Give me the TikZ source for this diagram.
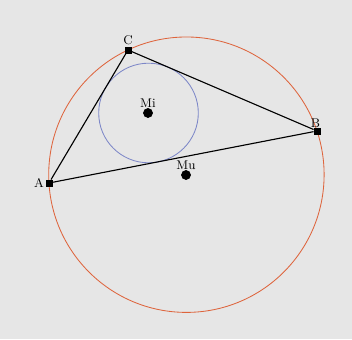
\documentclass[tikz,border=0pt]{standalone}
\usepackage{tikz}
\usetikzlibrary{positioning}

\definecolor{bggray}{RGB}{230,230,230}
\definecolor{umkreis}{RGB}{222,100,60}
\definecolor{inkreis}{RGB}{125,135,200}

\tikzset{
  ecke/.style={draw=black, fill=black, rectangle, inner sep=0pt, minimum size=4.5pt},
  mitte/.style={draw=black, fill=black, circle, inner sep=0pt, minimum size=6.5pt},
  lbl/.style={font=\small, inner sep=1pt}
}

\begin{document}
\begin{tikzpicture}[x=0.025cm, y=0.025cm]
  \fill[bggray] (0,0) rectangle (352,339);
  \useasboundingbox (0,0) rectangle (352,339);

  % circles
  \draw[umkreis, semithick] (186.4,164.3) circle (137.7);
  \draw[inkreis, semithick] (148.5,226.0) circle (49.8);

  % corners
  \node[ecke] (A) at (49,156) {};
  \node[ecke] (B) at (317,208) {};
  \node[ecke] (C) at (128,289) {};

  \draw[thick] (A) -- (B) -- (C) -- (A);

  % centres
  \node[mitte] (Mi) at (148,226) {};
  \node[mitte] (Mu) at (186,164) {};

  \node[lbl, left=0pt of A] {A};
  \node[lbl, above=-1pt of B, xshift=-1pt] {B};
  \node[lbl, above=0pt of C] {C};
  \node[lbl, above=-1pt of Mi] {Mi};
  \node[lbl, above=-1pt of Mu] {Mu};
\end{tikzpicture}
\end{document}
